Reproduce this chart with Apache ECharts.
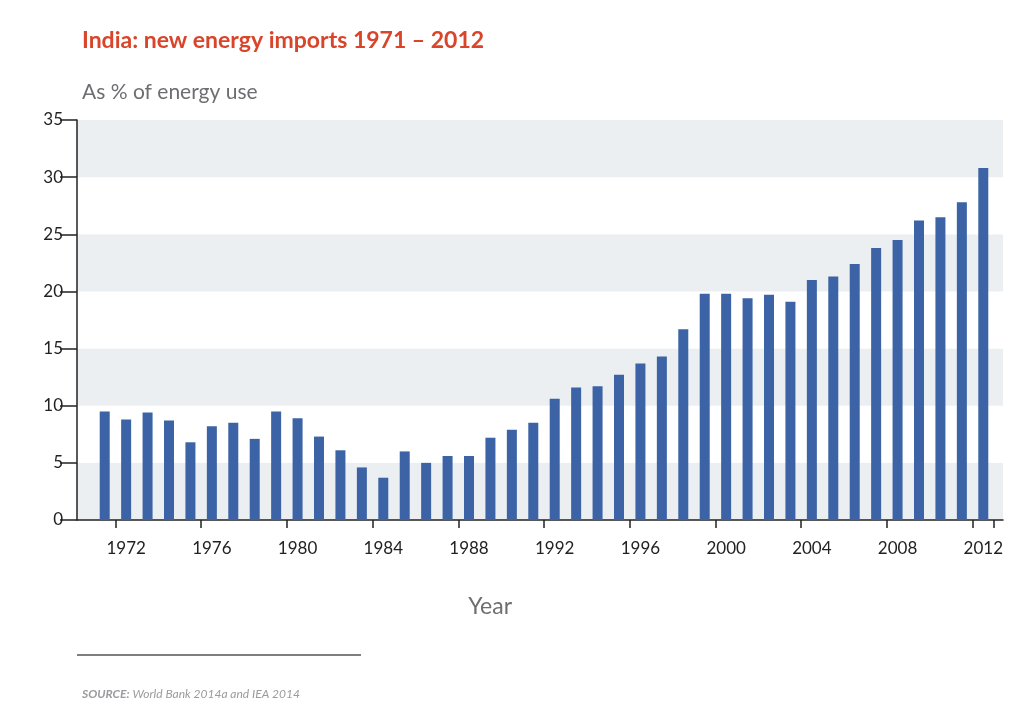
<!DOCTYPE html>
<html><head><meta charset="utf-8">
<script src="https://cdn.jsdelivr.net/npm/echarts@6/dist/echarts.min.js"></script>
<style>html,body{margin:0;background:#fff}#c{width:1024px;height:723px}</style>
</head><body><div id="c"></div>
<script>
// dados
const anos = [];
for (let a = 1971; a <= 2012; a++) anos.push(String(a));
const importacoes = [9.5, 8.8, 9.4, 8.7, 6.8, 8.2, 8.5, 7.1, 9.5, 8.9,
  7.3, 6.1, 4.6, 3.7, 6.0, 5.0, 5.6, 5.6, 7.2, 7.9,
  8.5, 10.6, 11.6, 11.7, 12.7, 13.7, 14.3, 16.7, 19.8, 19.8,
  19.4, 19.7, 19.1, 21.0, 21.3, 22.4, 23.8, 24.5, 26.2, 26.5,
  27.8, 30.8];
const ticksY = [0, 35, 5];

const grafico = echarts.init(document.getElementById('c'));
const fonte = 'Lato, "Open Sans", sans-serif';
const option = {
  animation: false,
  textStyle: { fontFamily: fonte },
  title: [
    { text: 'India: new energy imports 1971 – 2012', left: 77, top: 24,
      textStyle: { color: '#d8452a', fontSize: 23, fontWeight: 'bold', fontFamily: fonte } },
    { text: 'As % of energy use', left: 77, top: 77,
      textStyle: { color: '#6d6e71', fontSize: 21, fontWeight: 'normal', fontFamily: fonte } },
    { text: 'Year', left: 'center', top: 590, textAlign: 'center',
      textStyle: { color: '#6d6e71', fontSize: 23, fontWeight: 'normal', fontFamily: fonte } },
    { text: '{b|SOURCE:} World Bank 2014a and IEA 2014', left: 77, top: 683,
      textStyle: { color: '#9a9b9e', fontSize: 12, fontStyle: 'italic', fontWeight: 'normal', fontFamily: fonte,
        rich: { b: { fontWeight: 'bold', fontStyle: 'italic', color: '#9a9b9e', fontSize: 12 } } } }
  ],
  graphic: [{ type: 'line', shape: { x1: 77, y1: 655, x2: 361, y2: 655 },
    style: { stroke: '#555', lineWidth: 1.5 } }],
  grid: [
    { left: 77, right: 21, top: 120, bottom: 203 },
    { left: 94, right: 30, top: 120, bottom: 203 }
  ],
  xAxis: [
    { gridIndex: 0, type: 'value', min: 0, max: 1, show: true,
      axisLabel: { show: false }, axisTick: { show: false }, splitLine: { show: false },
      axisLine: { show: true, onZero: false, lineStyle: { color: '#222', width: 1.5 } } },
    { gridIndex: 1, type: 'category', data: anos,
      axisLine: { show: false },
      axisTick: { show: true, length: 8, lineStyle: { color: '#222', width: 1.5 } },
      axisLabel: { color: '#222', fontSize: 17, margin: 20,
        interval: (i, v) => Number(v) % 4 === 0 } }
  ],
  yAxis: [
    { gridIndex: 0, type: 'value', min: ticksY[0], max: ticksY[1], interval: ticksY[2],
      axisLine: { show: true, lineStyle: { color: '#222', width: 1.5 } },
      axisTick: { show: true, length: 17, lineStyle: { color: '#222', width: 1.5 } },
      axisLabel: { color: '#222', fontSize: 17, margin: 14 },
      splitLine: { show: false },
      splitArea: { show: true, areaStyle: { color: ['#eceff2', '#ffffff'] } } },
    { gridIndex: 1, type: 'value', min: ticksY[0], max: ticksY[1], show: false }
  ],
  series: [{
    type: 'bar', xAxisIndex: 1, yAxisIndex: 1,
    data: importacoes, barWidth: 10,
    itemStyle: { color: '#3b63a5' }
  }]
};
grafico.setOption(option);
</script></body></html>
